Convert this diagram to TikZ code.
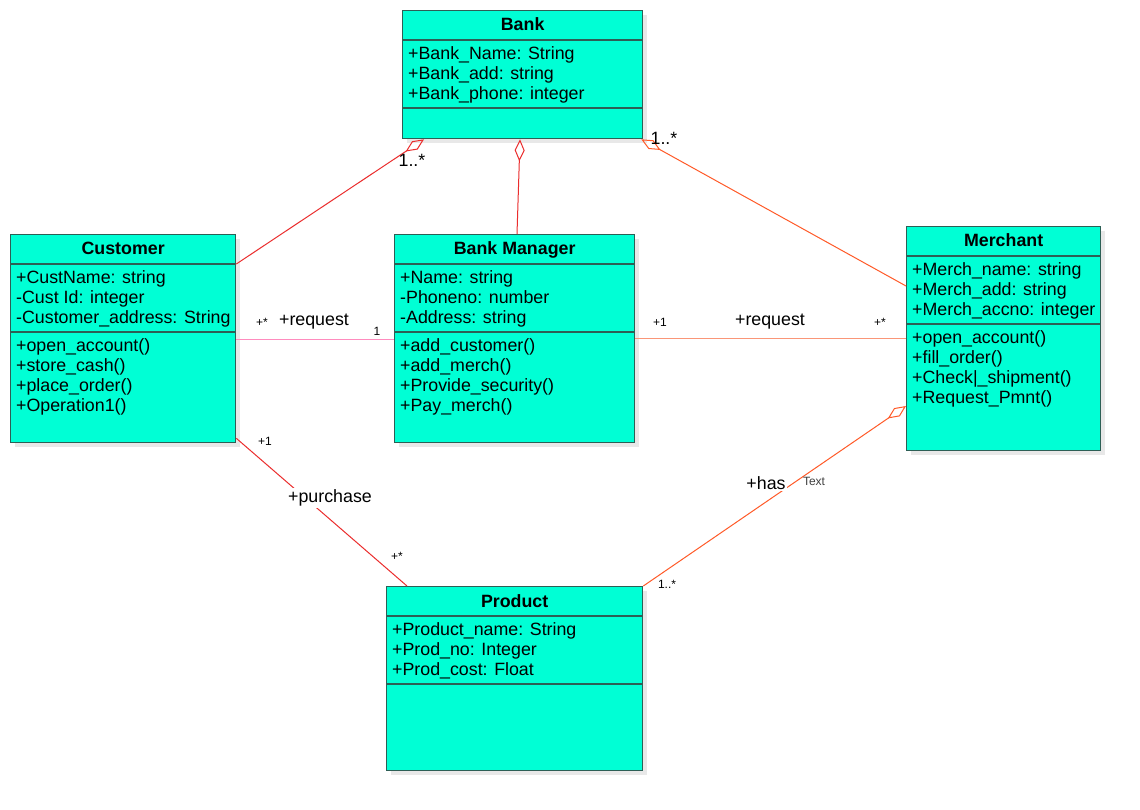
\documentclass[tikz,border=0pt]{standalone}
\usepackage{fontspec}
\setmainfont{Liberation Sans}
\usetikzlibrary{arrows.meta,calc}

\definecolor{boxfill}{RGB}{0,255,213}
\definecolor{boxline}{RGB}{45,95,85}
\definecolor{lnred}{RGB}{235,45,45}
\definecolor{lnorange}{RGB}{255,90,40}
\definecolor{lnpink}{RGB}{255,140,190}
\definecolor{lnsalmon}{RGB}{250,150,120}

\tikzset{
  classbox/.style={draw=boxline, line width=1.3pt, fill=boxfill, rectangle, anchor=north west, inner sep=0pt},
  shadowfill/.style={fill=black!9, draw=none},
  sepline/.style={draw=boxline, line width=1.3pt},
  ttl/.style={font=\fontsize{17.8}{20}\selectfont\bfseries, anchor=base, inner sep=0pt},
  mem/.style={font=\fontsize{17.8}{20}\selectfont, anchor=base west, inner sep=0pt},
  biglbl/.style={font=\fontsize{17.8}{20}\selectfont, inner sep=1.5pt},
  smalllbl/.style={font=\fontsize{12}{14}\selectfont, inner sep=0.5pt},
  assoc/.style={line width=1pt},
  aggr/.style={line width=1pt, -{Diamond[open,length=22pt,width=10pt]}},
}

% #1 name, #2 x, #3 y, #4 width, #5 height, #6 title
\newcommand\umlclass[6]{%
  \fill[shadowfill] (#2+5,#3+5) rectangle ++(#4,#5);
  \node[classbox, minimum width=#4pt, minimum height=#5pt] (#1) at (#2,#3) {};
  \draw[sepline] ($(#1.north west)+(0,30)$) -- ($(#1.north east)+(0,30)$);
  \draw[sepline] ($(#1.north west)+(0,98)$) -- ($(#1.north east)+(0,98)$);
  \node[ttl] (#1-title) at ($(#1.north)+(0,21)$) {#6};
}
% #1 prefix, #2 x, #3 first baseline y, #4 list
\newcommand\umlmembers[4]{%
  \foreach \t [count=\i] in {#4} {\node[mem] (#1\i) at (#2, {#3+20*(\i-1)}) {\t};}
}

\begin{document}
\begin{tikzpicture}[x=1pt, y=-1pt]
\useasboundingbox (0,0) rectangle (1140,810);
\fill[white] (0,0) rectangle (1140,810);

% Bank
\umlclass{bank}{402}{10}{240}{128}{Bank}
\umlmembers{bank-a}{408}{59.5}{+Bank\_Name: String,+Bank\_add: string,+Bank\_phone: integer}

% Customer
\umlclass{cust}{10}{234}{225}{208}{Customer}
\umlmembers{cust-a}{16}{283.5}{+CustName: string,-Cust Id: integer,-Customer\_address: String}
\umlmembers{cust-o}{16}{351.5}{+open\_account(),+store\_cash(),+place\_order(),+Operation1()}

% Bank Manager
\umlclass{bm}{394}{234}{240}{208}{Bank Manager}
\umlmembers{bm-a}{400}{283.5}{+Name: string,-Phoneno: number,-Address: string}
\umlmembers{bm-o}{400}{351.5}{+add\_customer(),+add\_merch(),+Provide\_security(),+Pay\_merch()}

% Merchant
\umlclass{merch}{906}{226}{194}{224}{Merchant}
\umlmembers{merch-a}{912}{275.5}{+Merch\_name: string,+Merch\_add: string,+Merch\_accno: integer}
\umlmembers{merch-o}{912}{343.5}{+open\_account(),+fill\_order(),+Check|\_shipment(),+Request\_Pmnt()}

% Product
\umlclass{prod}{386}{586}{256}{184}{Product}
\umlmembers{prod-a}{392}{635.5}{+Product\_name: String,+Prod\_no: Integer,+Prod\_cost: Float}

% Connectors
\draw[aggr, lnred] ($(cust.north east)+(0,30)$) -- ($(bank.south west)+(22,0)$);
\draw[aggr, lnred] ($(bm.north west)+(123,0)$) -- ($(bank.south west)+(118,0)$);
\draw[aggr, lnorange] ($(merch.north west)+(0,60)$) -- ($(bank.south east)+(-2,0)$);
\draw[assoc, lnpink] ($(cust.north east)+(0,105)$) -- ($(bm.north west)+(0,105)$);
\draw[assoc, lnsalmon] ($(bm.north east)+(0,104)$) -- ($(merch.north west)+(0,112)$);
\draw[assoc, lnred] ($(cust.south east)+(0,-5)$) -- ($(prod.north west)+(21,0)$);
\draw[aggr, lnorange] (prod.north east) -- ($(merch.north west)+(0,180)$);

% Labels
\node[biglbl] (l-cb) at (412,160) {1..*};
\node[biglbl] (l-mb) at (664,138) {1..*};
\node[smalllbl] (l-cbm1) at (262,322) {+*};
\node[biglbl] (l-cbm2) at (314,322) {+request};
\node[smalllbl] (l-cbm3) at (377,331) {1};
\node[smalllbl] (l-bmm1) at (660,322) {+1};
\node[biglbl] (l-bmm2) at (770,322) {+request};
\node[smalllbl] (l-bmm3) at (880,322) {+*};
\node[smalllbl] (l-cp1) at (265,441) {+1};
\node[biglbl, fill=white] (l-cp2) at (330,498) {+purchase};
\node[smalllbl] (l-cp3) at (397,556) {+*};
\node[biglbl, fill=white] (l-pm1) at (766,483) {+has};
\node[smalllbl, text=black!75] (l-pm2) at (814,481) {Text};
\node[smalllbl] (l-pm3) at (667,584) {1..*};
\end{tikzpicture}
\end{document}
